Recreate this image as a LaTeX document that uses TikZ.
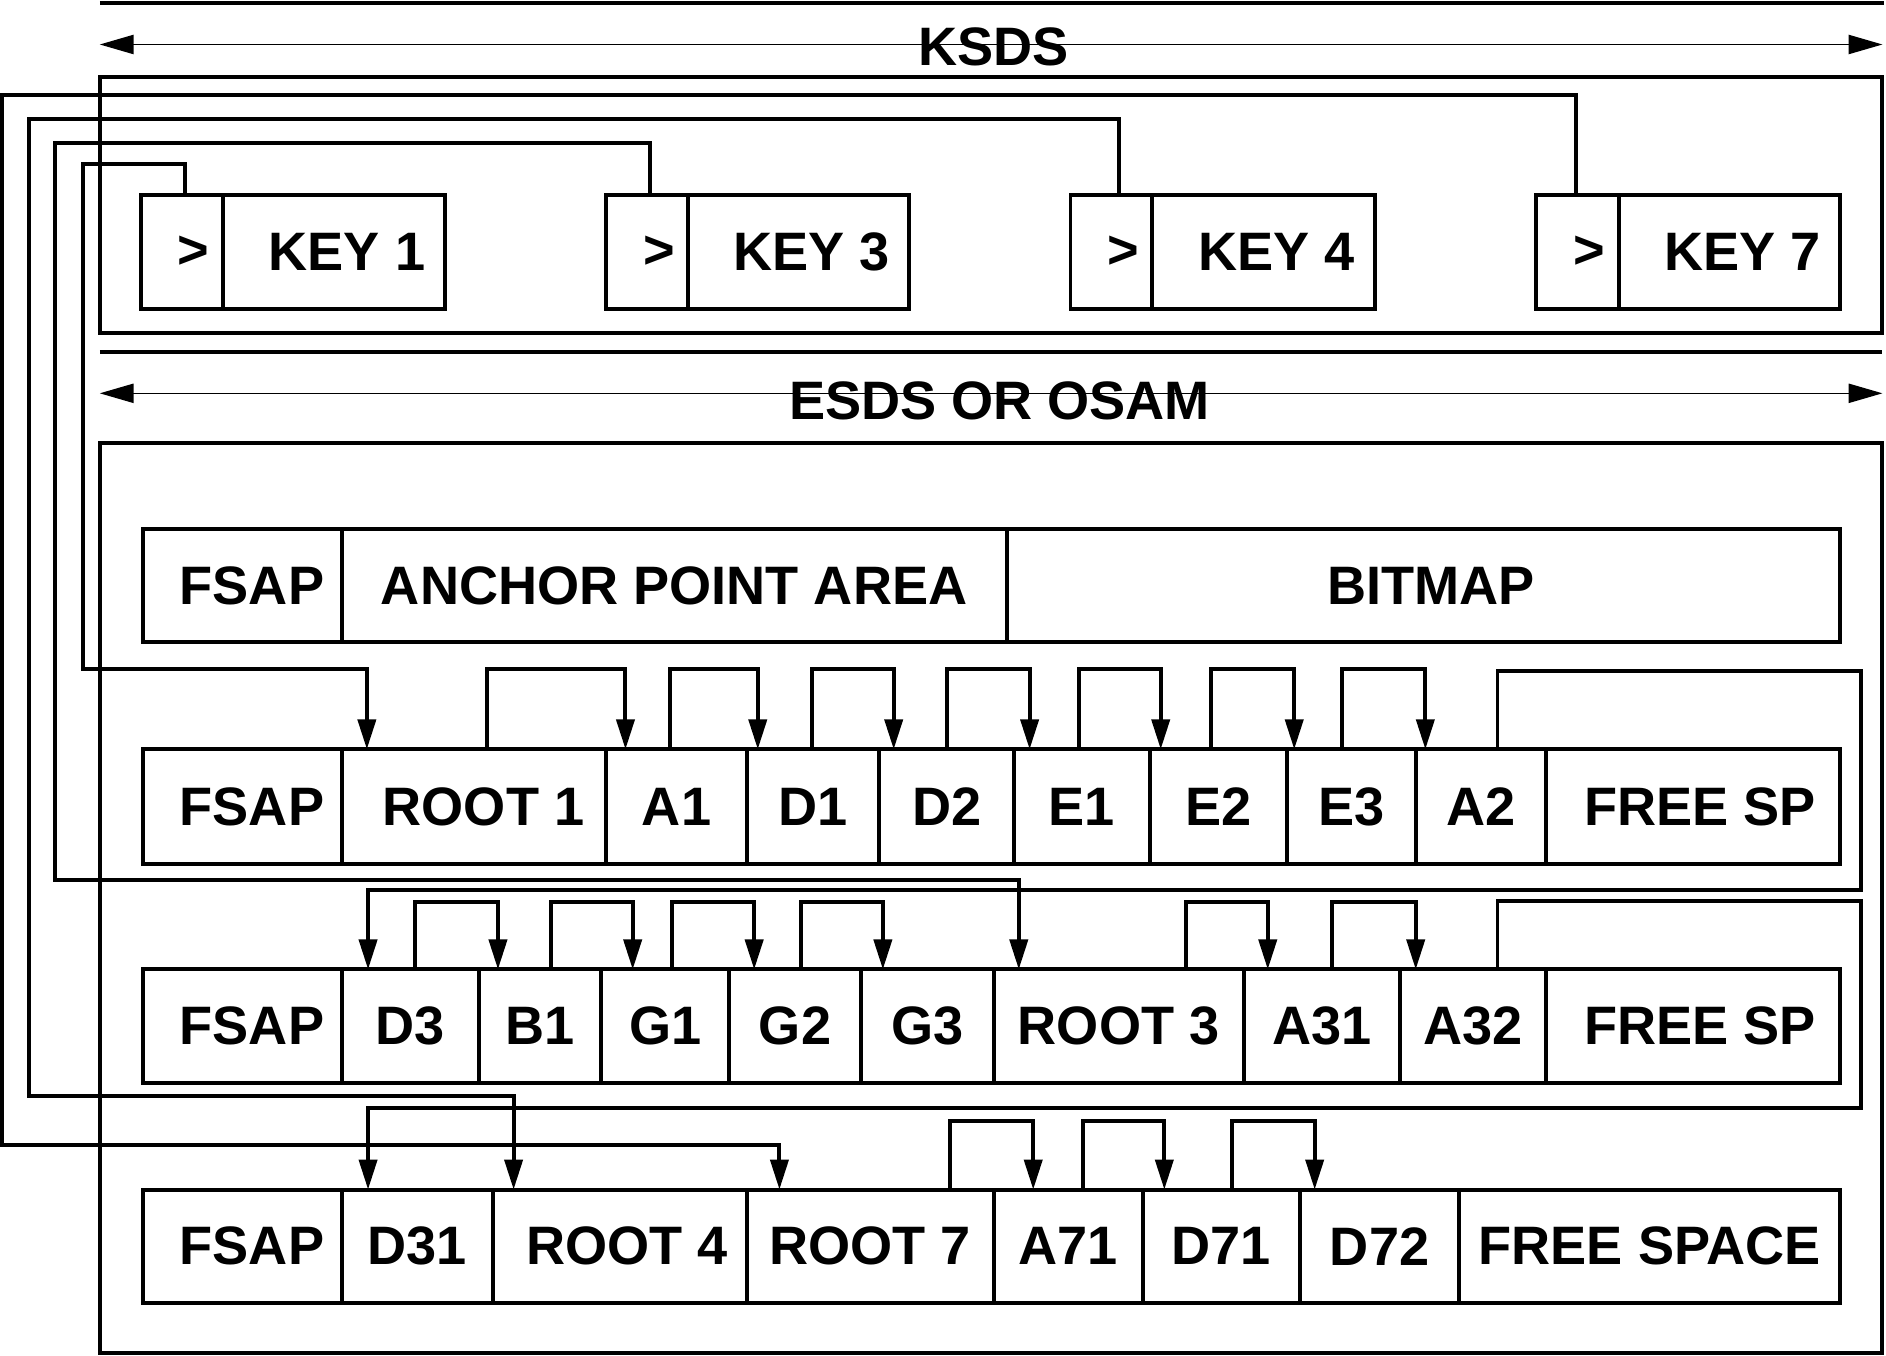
\documentclass[tikz,border=0pt]{standalone}
\usepackage{fontspec}
\setmainfont{Liberation Sans}
\usetikzlibrary{arrows.meta}
\newcommand\mkcell[4]{\node[box,minimum width={(#3-#2)*0.5pt},minimum height={(\rbot-\rtop)*0.5pt}] (#1) at ({(#2+#3)/2},{(\rtop+\rbot)/2}) {#4};}
\newcommand\chainarrow[5]{\draw[ptr] (#3,0 |- #1.north) |- (#4,#5) -- (#4,0 |- #2.north);}
\begin{document}
\begin{tikzpicture}[x=0.5pt,y=-0.5pt,
  box/.style={draw,line width=1.65pt,inner sep=0pt,outer sep=0pt,font=\bfseries\fontsize{22.5pt}{26pt}\selectfont},
  ptr/.style={line width=1.65pt,-{Triangle[length=12.5pt,width=7.5pt]}},
  plain/.style={line width=1.65pt},
  dim/.style={line width=0.5pt,{Triangle[length=14pt,width=8pt]}-{Triangle[length=14pt,width=8pt]}},
  lbl/.style={inner sep=0pt,font=\bfseries\fontsize{22.5pt}{26pt}\selectfont}]
\useasboundingbox (0,0) rectangle (1568,1127);

% dimension bars
\draw[plain] (83,2.5) -- (1566,2.5);
\coordinate (kL) at (83,37);
\coordinate (kR) at (1565,37);
\draw[dim] (kL) -- (kR);
\node[lbl] (ksdslbl) at (826,39) {KSDS};

\draw[plain] (83,293) -- (1565,293);
\coordinate (eL) at (83,327);
\coordinate (eR) at (1565,327);
\draw[dim] (eL) -- (eR);
\node[lbl] (esdslbl) at (831,333) {ESDS OR OSAM};

% outer boxes
\def\rtop{64}\def\rbot{277}
\mkcell{ksds}{83}{1565}{}
\def\rtop{368}\def\rbot{1125}
\mkcell{esds}{83}{1565}{}

% key boxes
\def\rtop{162}\def\rbot{257}
\mkcell{k1p}{117}{185}{\hspace*{10pt}>}
\mkcell{k1}{185}{370}{\hspace*{11pt}KEY 1}
\mkcell{k3p}{504}{572}{\hspace*{10pt}>}
\mkcell{k3}{572}{756}{\hspace*{11pt}KEY 3}
\mkcell{k4p}{890}{958}{\hspace*{10pt}>}
\mkcell{k4}{958}{1143}{\hspace*{11pt}KEY 4}
\mkcell{k7p}{1277}{1346}{\hspace*{10pt}>}
\mkcell{k7}{1346}{1530}{\hspace*{11pt}KEY 7}

% row 0
\def\rtop{440}\def\rbot{534}
\mkcell{a0f}{119}{284}{\hspace*{8pt}FSAP}
\mkcell{a0apa}{284}{837}{ANCHOR POINT AREA}
\mkcell{a0bm}{837}{1530}{\hspace*{6pt}BITMAP}

% row 1
\def\rtop{623}\def\rbot{718}
\mkcell{r1f}{119}{284}{\hspace*{8pt}FSAP}
\mkcell{r1root}{284}{504}{\hspace*{8pt}ROOT 1}
\mkcell{r1a1}{504}{621}{A1}
\mkcell{r1d1}{621}{731}{D1}
\mkcell{r1d2}{731}{843}{D2}
\mkcell{r1e1}{843}{956}{E1}
\mkcell{r1e2}{956}{1070}{E2}
\mkcell{r1e3}{1070}{1177}{E3}
\mkcell{r1a2}{1177}{1285}{A2}
\mkcell{r1free}{1285}{1530}{\hspace*{6pt}FREE SP}

% row 2
\def\rtop{806}\def\rbot{900}
\mkcell{r2f}{119}{284}{\hspace*{8pt}FSAP}
\mkcell{r2d3}{284}{398}{D3}
\mkcell{r2b1}{398}{500}{B1}
\mkcell{r2g1}{500}{606}{G1}
\mkcell{r2g2}{606}{716}{G2}
\mkcell{r2g3}{716}{826}{G3}
\mkcell{r2root}{826}{1034}{ROOT 3}
\mkcell{r2a31}{1034}{1164}{A31}
\mkcell{r2a32}{1164}{1285}{A32}
\mkcell{r2free}{1285}{1530}{\hspace*{6pt}FREE SP}

% row 3
\def\rtop{989}\def\rbot{1083}
\mkcell{r3f}{119}{284}{\hspace*{8pt}FSAP}
\mkcell{r3d31}{284}{410}{D31}
\mkcell{r3root4}{410}{621}{\hspace*{6pt}ROOT 4}
\mkcell{r3root7}{621}{826}{ROOT 7}
\mkcell{r3a71}{826}{950}{A71}
\mkcell{r3d71}{950}{1081}{D71}
\mkcell{r3d72}{1081}{1213}{D72}
\mkcell{r3free}{1213}{1530}{FREE SPACE}

% key pointers
\draw[ptr] (154,0 |- k1p.north) |- (69,136) |- (305,556) -- (305,0 |- r1root.north);
\draw[ptr] (540,0 |- k3p.north) |- (46,119) |- (847,732) -- (847,0 |- r2root.north);
\draw[ptr] (930,0 |- k4p.north) |- (24,99) |- (427,911) -- (427,0 |- r3root4.north);
\draw[ptr] (1310,0 |- k7p.north) |- (2,79) |- (648,952) -- (648,0 |- r3root7.north);

% row 1 chains
\chainarrow{r1root}{r1a1}{405}{520}{556}
\chainarrow{r1a1}{r1d1}{557}{630}{556}
\chainarrow{r1d1}{r1d2}{675}{743}{556}
\chainarrow{r1d2}{r1e1}{787}{856}{556}
\chainarrow{r1e1}{r1e2}{897}{965}{556}
\chainarrow{r1e2}{r1e3}{1007}{1076}{556}
\chainarrow{r1e3}{r1a2}{1116}{1185}{556}
\draw[ptr] (1245,0 |- r1a2.north) |- (1547,558) |- (306,740) -- (306,0 |- r2d3.north);

% row 2 chains
\chainarrow{r2d3}{r2b1}{345}{414}{750}
\chainarrow{r2b1}{r2g1}{458}{526}{750}
\chainarrow{r2g1}{r2g2}{559}{627}{750}
\chainarrow{r2g2}{r2g3}{666}{734}{750}
\chainarrow{r2root}{r2a31}{986}{1054}{750}
\chainarrow{r2a31}{r2a32}{1107}{1177}{750}
\draw[ptr] (1245,0 |- r2a32.north) |- (1547,749) |- (306,921) -- (306,0 |- r3d31.north);

% row 3 chains
\chainarrow{r3root7}{r3a71}{790}{859}{932}
\chainarrow{r3a71}{r3d71}{900}{968}{932}
\chainarrow{r3d71}{r3d72}{1024}{1093}{932}
\end{tikzpicture}
\end{document}
